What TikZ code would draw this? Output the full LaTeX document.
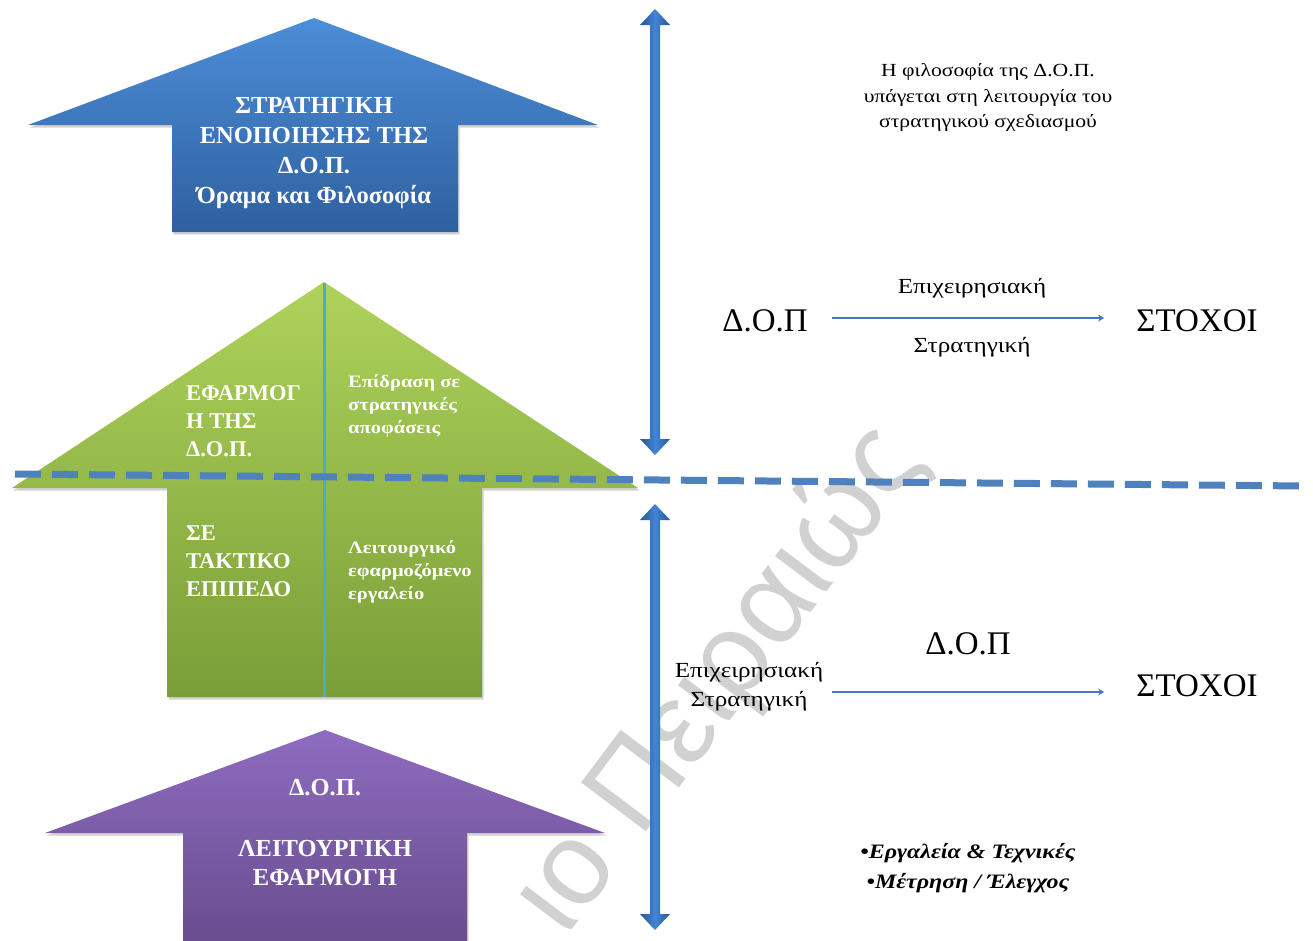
\documentclass[tikz,border=0pt]{standalone}
\usepackage{fontspec}
\setmainfont{Liberation Serif}
\newfontfamily\widefont[FakeStretch=1.17]{Liberation Serif}
\newfontfamily\wmfont{Liberation Sans}
\usetikzlibrary{shadows,arrows.meta}
\definecolor{blueTop}{RGB}{76,142,216}
\definecolor{blueBot}{RGB}{47,96,160}
\definecolor{greenTop}{RGB}{174,210,90}
\definecolor{greenBot}{RGB}{122,158,56}
\definecolor{purpTop}{RGB}{142,108,192}
\definecolor{purpBot}{RGB}{104,76,142}
\definecolor{vaLight}{RGB}{66,133,214}
\definecolor{vaDark}{RGB}{38,86,150}
\definecolor{dashBlue}{RGB}{79,129,189}
\definecolor{lineCyan}{RGB}{75,172,198}
\definecolor{arrBlue}{RGB}{70,120,190}
\begin{document}
\begin{tikzpicture}[x=1pt,y=-1pt,
  bigarrow/.style={drop shadow={shadow xshift=1.5pt,shadow yshift=-2.5pt,opacity=0.35}},
  wtxt/.style={text=white,inner sep=0pt},
  capbig/.style={wtxt,font=\bfseries\fontsize{24.5}{30}\selectfont},
  capmid/.style={wtxt,font=\bfseries\fontsize{22.5}{28}\selectfont},
  lowg/.style={wtxt,font=\widefont\bfseries\fontsize{17.5}{23}\selectfont},
  rtxt/.style={inner sep=0pt,font=\widefont\fontsize{18.5}{25}\selectfont},
  mtxt/.style={inner sep=0pt,font=\widefont\fontsize{21.5}{28}\selectfont},
  btxt/.style={inner sep=0pt,font=\fontsize{33}{36}\selectfont},
  bitxt/.style={inner sep=0pt,font=\widefont\bfseries\itshape\fontsize{20.5}{28}\selectfont},
  thinarrow/.style={draw=arrBlue,line width=2.5pt,-{Stealth[length=6pt,width=7pt]}},
  vbar/.style={left color=vaDark,right color=vaDark,middle color=vaLight}
]
\useasboundingbox (0,0) rectangle (1313,940);
\fill[white] (0,0) rectangle (1313,940);

% watermark
\node[font=\wmfont\fontsize{118}{118}\selectfont,text=black!18,rotate=53,inner sep=0pt] (wm) at (720,680) {ιο Πειραιώς};

% blue arrow
\shade[bigarrow,top color=blueTop,bottom color=blueBot]
  (314,18) -- (598,125) -- (458,125) -- (458,232) -- (172,232) -- (172,125) -- (28,125) -- cycle;
\node[capbig,anchor=base] (b1) at (314,113) {ΣΤΡΑΤΗΓΙΚΗ};
\node[capbig,anchor=base] (b2) at (314,143) {ΕΝΟΠΟΙΗΣΗΣ ΤΗΣ};
\node[capbig,anchor=base] (b3) at (314,173) {Δ.Ο.Π.};
\node[capbig,anchor=base] (b4) at (314,203) {Όραμα και Φιλοσοφία};

% green arrow
\shade[bigarrow,top color=greenTop,bottom color=greenBot]
  (324,282) -- (638,488) -- (482,488) -- (482,697) -- (167,697) -- (167,488) -- (12,488) -- cycle;
\draw[lineCyan,line width=3pt] (324,283) -- (324,697);
\node[capmid,anchor=base west] (g1) at (186,400) {ΕΦΑΡΜΟΓ};
\node[capmid,anchor=base west] (g2) at (186,428) {Η ΤΗΣ};
\node[capmid,anchor=base west] (g3) at (186,456) {Δ.Ο.Π.};
\node[capmid,anchor=base west] (g4) at (186,540) {ΣΕ};
\node[capmid,anchor=base west] (g5) at (186,568) {ΤΑΚΤΙΚΟ};
\node[capmid,anchor=base west] (g6) at (186,596) {ΕΠΙΠΕΔΟ};
\node[lowg,anchor=base west] (h1) at (348,387) {Επίδραση σε};
\node[lowg,anchor=base west] (h2) at (348,410) {στρατηγικές};
\node[lowg,anchor=base west] (h3) at (348,433) {αποφάσεις};
\node[lowg,anchor=base west] (h4) at (348,553) {Λειτουργικό};
\node[lowg,anchor=base west] (h5) at (348,576) {εφαρμοζόμενο};
\node[lowg,anchor=base west] (h6) at (348,599) {εργαλείο};

% purple arrow
\shade[bigarrow,top color=purpTop,bottom color=purpBot]
  (325,730) -- (605,833) -- (467,833) -- (467,945) -- (183,945) -- (183,833) -- (45,833) -- cycle;
\node[capbig,anchor=base] (p1) at (325,795) {Δ.Ο.Π.};
\node[capbig,anchor=base] (p2) at (325,856) {ΛΕΙΤΟΥΡΓΙΚΗ};
\node[capbig,anchor=base] (p3) at (325,885) {ΕΦΑΡΜΟΓΗ};

% vertical double arrows
\shade[vbar] (655,9) -- (670,25) -- (660,25) -- (660,439) -- (670,439) -- (655,455)
  -- (640,439) -- (650,439) -- (650,25) -- (640,25) -- cycle;
\shade[vbar] (655,504) -- (670,520) -- (660,520) -- (660,914) -- (670,914) -- (655,930)
  -- (640,914) -- (650,914) -- (650,520) -- (640,520) -- cycle;

% dashed separator
\draw[dashBlue,line width=7pt,dash pattern=on 26pt off 11pt] (15,474) -- (1305,486);

% right, upper
\node[rtxt,anchor=base] (r1) at (988,76) {Η φιλοσοφία της Δ.Ο.Π.};
\node[rtxt,anchor=base] (r2) at (988,102) {υπάγεται στη λειτουργία του};
\node[rtxt,anchor=base] (r3) at (988,127) {στρατηγικού σχεδιασμού};

\node[btxt,anchor=base] (dopA) at (765,331) {Δ.Ο.Π};
\node[btxt,anchor=base] (stoxA) at (1197,331) {ΣΤΟΧΟΙ};
\node[mtxt,anchor=base] (epA) at (972,293) {Επιχειρησιακή};
\node[mtxt,anchor=base] (stA) at (972,352) {Στρατηγική};
\coordinate (lvA) at (0,318);
\draw[thinarrow,shorten <=24pt,shorten >=32pt] (dopA.east |- lvA) -- (stoxA.west |- lvA);

% right, lower
\node[btxt,anchor=base] (dopB) at (968,654) {Δ.Ο.Π};
\node[btxt,anchor=base] (stoxB) at (1197,696) {ΣΤΟΧΟΙ};
\node[mtxt,anchor=base] (epB) at (749,677) {Επιχειρησιακή};
\node[mtxt,anchor=base] (stB) at (749,706) {Στρατηγική};
\coordinate (lvB) at (0,692);
\draw[thinarrow,shorten <=9pt,shorten >=32pt] (epB.east |- lvB) -- (stoxB.west |- lvB);

\node[bitxt,anchor=base] (k1) at (968,858) {•Εργαλεία \& Τεχνικές};
\node[bitxt,anchor=base] (k2) at (968,888) {•Μέτρηση / Έλεγχος};
\end{tikzpicture}
\end{document}
